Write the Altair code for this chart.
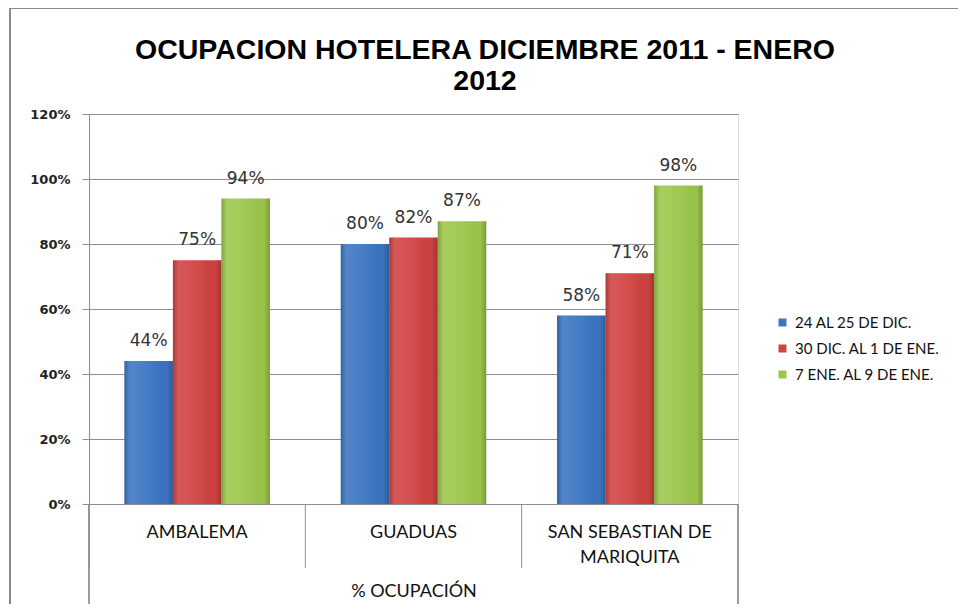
import altair as alt
import pandas as pd

# ---- data ----
categories = ["AMBALEMA", "GUADUAS", "SAN SEBASTIAN DE MARIQUITA"]
series = ["24 AL 25 DE DIC.", "30 DIC. AL 1 DE ENE.", "7 ENE. AL 9 DE ENE."]
values_24_25_dic = [0.44, 0.80, 0.58]
values_30dic_1ene = [0.75, 0.82, 0.71]
values_7_9_ene = [0.94, 0.87, 0.98]
colors = ["#3b74c1", "#cf4240", "#9cc64b"]
y_ticks = [0, 0.2, 0.4, 0.6, 0.8, 1.0, 1.2]
title_lines = ["OCUPACION HOTELERA DICIEMBRE 2011 - ENERO", "2012"]
x_title = "% OCUPACIÓN"

rows = []
for s, vals in zip(series, [values_24_25_dic, values_30dic_1ene, values_7_9_ene]):
    for c, v in zip(categories, vals):
        rows.append({"cat": c, "serie": s, "val": v})
df = pd.DataFrame(rows)
cat_df = pd.DataFrame({"cat": categories})

W, H = 649, 390
GRID = "#8e8e8e"

x_scale = alt.Scale(domain=categories, paddingInner=0, paddingOuter=0)
xoff = alt.XOffset("serie:N", scale=alt.Scale(domain=series, paddingInner=0, paddingOuter=0.73))
y_enc = alt.Y(
    "val:Q",
    scale=alt.Scale(domain=[0, 1.2], nice=False),
    axis=alt.Axis(
        values=y_ticks, format=".0%", title=None,
        grid=True, gridColor=GRID, gridWidth=1,
        tickSize=7, tickColor=GRID, domainColor=GRID,
        labelFont="DejaVu Sans", labelFontWeight="bold", labelFontSize=13,
        labelColor="#222222", labelPadding=12,
    ),
)
x_enc = alt.X(
    "cat:N", scale=x_scale,
    axis=alt.Axis(
        title=x_title, ticks=False, domainColor=GRID, labelAngle=0,
        labelFont="Lato", labelFontSize=18, labelColor="#111111",
        labelPadding=28, labelLineHeight=25, labelBaseline="middle",
        labelExpr="length(datum.label) > 16 ? [substring(datum.label, 0, lastindexof(datum.label, ' ')), substring(datum.label, lastindexof(datum.label, ' ') + 1)] : datum.label",
        titleFont="Lato", titleFontSize=18, titleFontWeight="normal", titleColor="#111111",
        titlePadding=16,
    ),
)

bars = alt.Chart(df).mark_bar().encode(
    x=x_enc, xOffset=xoff, y=y_enc,
    color=alt.Color(
        "serie:N", scale=alt.Scale(domain=series, range=colors),
        legend=alt.Legend(
            title=None, orient="none", legendX=686, legendY=201,
            symbolType="square", symbolSize=64, symbolStrokeWidth=0,
            labelFont="Lato", labelFontSize=15, labelColor="#111111",
            rowPadding=10, labelOffset=5, padding=0,
        ),
    ),
)

shade = alt.LinearGradient(
    gradient="linear", x1=0, x2=1, y1=0, y2=0,
    stops=[
        alt.GradientStop(offset=0, color="rgba(0,0,0,0.18)"),
        alt.GradientStop(offset=0.12, color="rgba(255,255,255,0.12)"),
        alt.GradientStop(offset=0.5, color="rgba(255,255,255,0.06)"),
        alt.GradientStop(offset=0.88, color="rgba(0,0,0,0.02)"),
        alt.GradientStop(offset=1, color="rgba(0,0,0,0.22)"),
    ],
)
overlay = alt.Chart(df).mark_bar(fill=shade).encode(
    x=alt.X("cat:N", scale=x_scale), xOffset=xoff, y=alt.Y("val:Q")
)

labels = alt.Chart(df).mark_text(
    baseline="alphabetic", dy=-15, font="DejaVu Sans", fontSize=17, color="#333333"
).encode(
    x=alt.X("cat:N", scale=x_scale), xOffset=xoff, y=alt.Y("val:Q"),
    text=alt.Text("val:Q", format=".0%"),
)

separators = alt.Chart(cat_df).mark_rule(color=GRID, strokeWidth=1).encode(
    x=alt.X("cat:N", scale=x_scale, bandPosition=0),
    y=alt.value(H), y2=alt.value(H + 64),
)
left_edge = alt.Chart(cat_df).mark_rule(color=GRID, strokeWidth=1).encode(
    x=alt.value(0), y=alt.value(H), y2=alt.value(H + 110)
)
right_edge = alt.Chart(cat_df).mark_rule(color=GRID, strokeWidth=1).encode(
    x=alt.value(W), y=alt.value(H), y2=alt.value(H + 110)
)
frame = alt.Chart(cat_df).mark_rect(fill="transparent", stroke="#8a8a8a", strokeWidth=2).encode(
    x=alt.value(-79), x2=alt.value(W + 300), y=alt.value(-106), y2=alt.value(H + 200)
)
title = alt.Chart(cat_df.head(1)).mark_text(
    font="Liberation Sans", fontSize=28.5, fontWeight="bold",
    color="#000000", align="center", baseline="alphabetic", lineHeight=31,
).encode(x=alt.value(396), y=alt.value(-55), text=alt.value(title_lines))

chart = alt.layer(frame, title, bars, overlay, labels, separators, left_edge, right_edge).properties(
    width=W, height=H,
    autosize=alt.AutoSizeParams(type="none"),
    padding={"left": 81, "top": 106, "right": 220, "bottom": 100},
).configure_view(stroke=None).configure(background="white")

chart.save("out.html", embed_options={"renderer": "svg", "actions": False})
